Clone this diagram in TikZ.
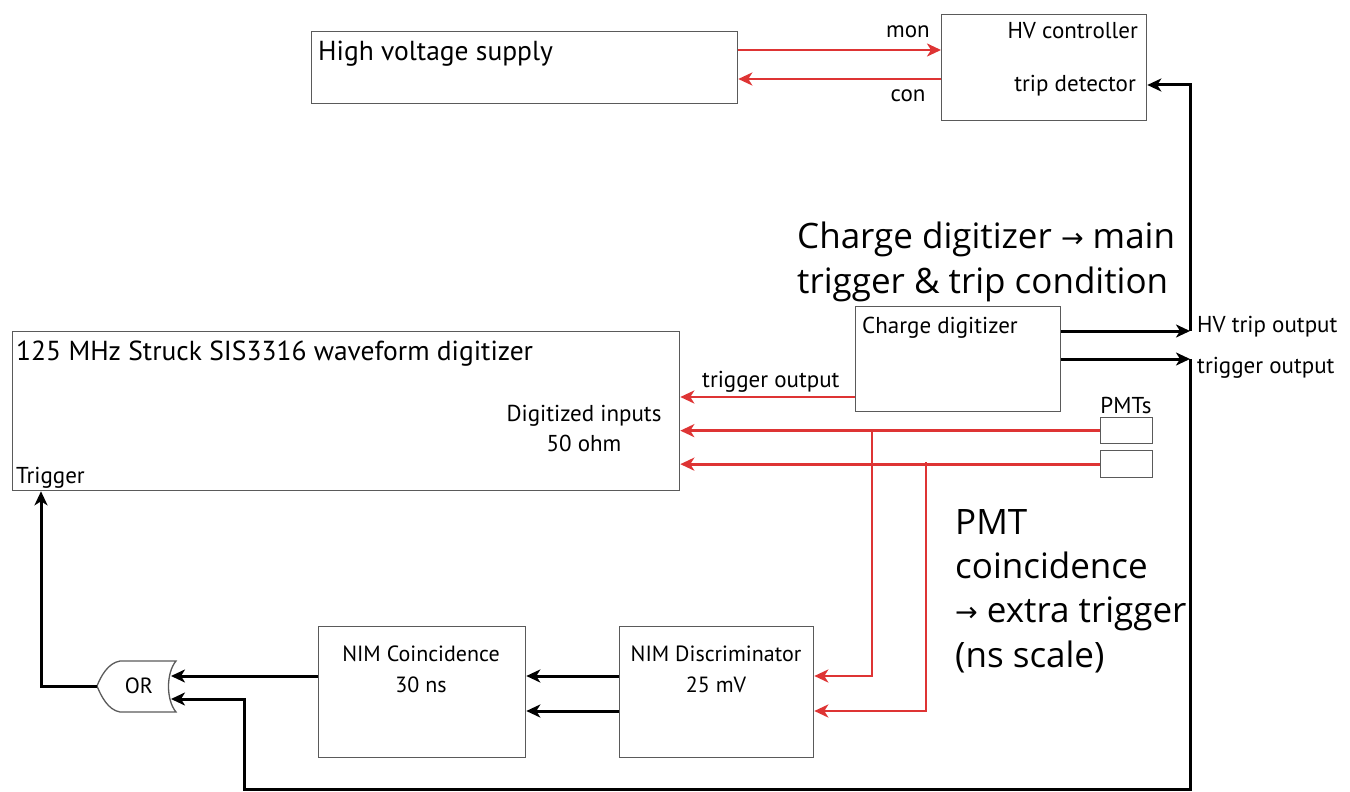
\documentclass[tikz,border=0pt]{standalone}
\usepackage{fontspec}
\setmainfont{PT Sans}
\newfontfamily\notefont{Open Sans}
\newfontfamily\symfont{DejaVu Sans}
\usetikzlibrary{arrows.meta}

\definecolor{sigred}{RGB}{222,52,52}
\definecolor{boxgray}{RGB}{90,90,90}

\newcommand{\fs}[1]{\fontsize{#1}{#1}\selectfont}
\newcommand{\smallarrow}{\raisebox{1pt}{\symfont\fontsize{27}{27}\selectfont →}}

\tikzset{
  box/.style={draw=boxgray, line width=1.3pt, inner sep=0pt, anchor=north west},
  tip/.style={-{Stealth[length=14pt,width=13pt,inset=4pt]}},
  blk/.style={draw=black, line width=3pt},
  red/.style={draw=sigred, line width=2.8pt},
  lbl/.style={inner sep=0pt, font=\fs{23}},
  title/.style={inner sep=0pt, font=\fs{27.5}},
  nimlbl/.style={inner sep=0pt, font=\fs{22}, align=center},
  note/.style={inner sep=0pt, font=\notefont\fontsize{35}{44.3}\selectfont, align=left, anchor=base west},
}

\begin{document}
\begin{tikzpicture}[x=1pt, y=-1pt]
\useasboundingbox (0,0) rectangle (1350,792);

% ---------- boxes ----------
\node[box, minimum width=426pt, minimum height=72pt]  (hvs)   at (311,31)  {};
\node[box, minimum width=205pt, minimum height=106pt] (ctrl)  at (941,14)  {};
\node[box, minimum width=205pt, minimum height=105pt] (qdc)   at (855,306) {};
\node[box, minimum width=667pt, minimum height=159pt] (wfd)   at (12,331)  {};
\node[box, minimum width=52pt,  minimum height=26pt]  (pmta)  at (1100,417) {};
\node[box, minimum width=52pt,  minimum height=27pt]  (pmtb)  at (1100,450) {};
\node[box, minimum width=207pt, minimum height=131pt] (coinc) at (318,626) {};
\node[box, minimum width=194pt, minimum height=131pt] (disc)  at (619,626) {};

% ---------- OR gate ----------
\draw[boxgray, line width=1.3pt]
  (176,661) -- (120,661) .. controls (108,663) and (101,676) .. (97,686)
  .. controls (101,696) and (108,710) .. (120,712) -- (176,712)
  .. controls (166,700) and (166,673) .. (176,661) -- cycle;
\node[lbl, font=\fs{22}] (orgate) at (139,686) {OR};
\coordinate (orin1) at (171,676);
\coordinate (orin2) at (171,699);
\coordinate (orout) at (97,686);

% ---------- box texts ----------
\node[title, anchor=base west] (hvstxt) at (318,60) {High voltage supply};
\node[lbl, anchor=base east] (ctrltxt) at (1138,39) {HV controller};
\node[lbl, anchor=base east] (triptxt) at (1136,92) {trip detector};
\node[lbl, anchor=base] (montxt) at (908,38) {mon};
\node[lbl, anchor=base] (contxt) at (908,102) {con};

\node[lbl, anchor=base west] (qdctxt) at (862,333) {Charge digitizer};
\node[lbl, anchor=base west] (tripout) at (1197,332) {HV trip output};
\node[lbl, anchor=base west] (trigout) at (1197,373) {trigger output};
\node[lbl, anchor=base west] (qdcout) at (702,387) {trigger output};

\node[title, anchor=base west] (wfdtxt) at (16,360) {125 MHz Struck SIS3316 waveform digitizer};
\node[lbl, anchor=base] (digin) at (584,421) {Digitized inputs};
\node[lbl, anchor=base] (ohm) at (584,451) {50 ohm};
\node[lbl, anchor=base west] (trigtxt) at (16,483) {Trigger};
\node[lbl, anchor=base] (pmttxt) at (1126,413) {PMTs};

\node[nimlbl, anchor=base] (cointxt) at (421,661) {NIM Coincidence};
\node[nimlbl, anchor=base] (cointime) at (421,692) {30 ns};
\node[nimlbl, anchor=base] (disctxt) at (716,661) {NIM Discriminator};
\node[nimlbl, anchor=base] (discthr) at (716,692) {25 mV};

% ---------- notes (base = last line) ----------
\node[note] (note1) at (797,293) {Charge digitizer \smallarrow{} main\\trigger \& trip condition};
\node[note] (note2) at (955,667) {PMT\\coincidence\\\smallarrow{} extra trigger\\(ns scale)};

% ---------- junction points ----------
\coordinate (tripj) at (1190,331);
\coordinate (tripup) at (1190,85);
\coordinate (trigj) at (1190,359);
\coordinate (botR) at (1190,789);
\coordinate (botL) at (244,789);
\coordinate (orup) at (244,699);
\coordinate (leftdn) at (41,686);
\coordinate (brA) at (872,430);
\coordinate (brAdn) at (872,676);
\coordinate (brB) at (926,462);
\coordinate (brBdn) at (926,711);

% ---------- HV supply links ----------
\draw[red, tip] (hvs.east |- 0,50) -- (ctrl.west |- 0,50);
\draw[red, tip] (ctrl.west |- 0,79) -- (hvs.east |- 0,79);

% ---------- charge digitizer outputs ----------
\draw[blk, tip] (qdc.east |- tripj) -- (tripj);
\draw[blk, tip] (tripj) -- (tripup) -- (ctrl.east |- tripup);
\draw[blk, tip] (qdc.east |- trigj) -- (trigj);
\draw[blk, tip] (trigj) -- (botR) -- (botL) -- (orup) -- (orin2);
\draw[red, tip] (qdc.west |- 0,397) -- (wfd.east |- 0,397);

% ---------- PMT signals ----------
\draw[red, tip] (pmta.west) -- (wfd.east |- pmta.west);
\draw[red, tip] (pmtb.west) -- (wfd.east |- pmtb.west);
\draw[red, tip] (brA) -- (brAdn) -- (disc.east |- brAdn);
\draw[red, tip] (brB) -- (brBdn) -- (disc.east |- brBdn);

% ---------- NIM chain ----------
\draw[blk, tip] (disc.west |- brAdn) -- (coinc.east |- brAdn);
\draw[blk, tip] (disc.west |- brBdn) -- (coinc.east |- brBdn);
\draw[blk, tip] (coinc.west |- orin1) -- (orin1);
\draw[blk, tip] (orout) -- (leftdn) -- (wfd.south -| leftdn);
\end{tikzpicture}
\end{document}
